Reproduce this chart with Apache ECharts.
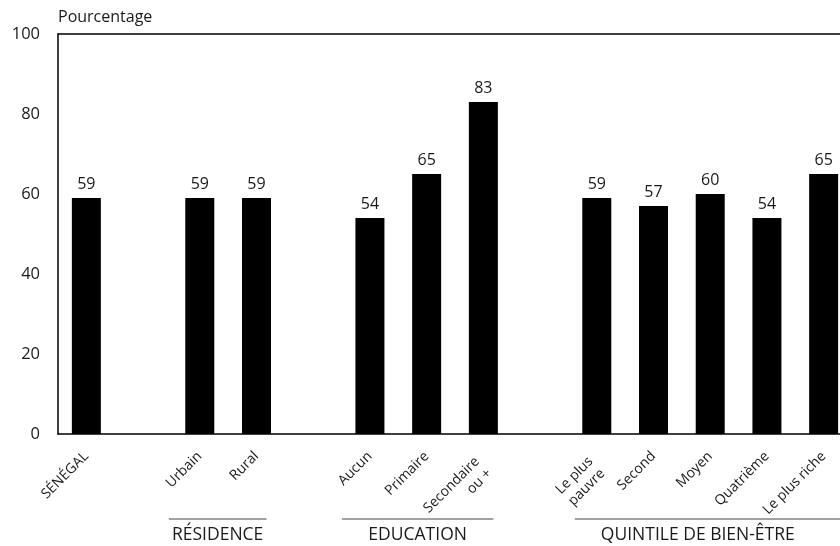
<!DOCTYPE html>
<html>
<head>
<meta charset="utf-8">
<script src="https://cdn.jsdelivr.net/npm/echarts@6/dist/echarts.min.js"></script>
<style>html,body{margin:0;padding:0;background:#fff;}#c{width:840px;height:546px;}</style>
</head>
<body>
<div id="c"></div>
<script>
const categories = ['SÉNÉGAL', '', 'Urbain', 'Rural', '', 'Aucun', 'Primaire', 'Secondaire\nou +', '', 'Le plus\npauvre', 'Second', 'Moyen', 'Quatrième', 'Le plus riche'];
const values = [59, null, 59, 59, null, 54, 65, 83, null, 59, 57, 60, 54, 65];
const yTicks = [0, 20, 40, 60, 80, 100];
const groupNames = ['RÉSIDENCE', 'EDUCATION', 'QUINTILE DE BIEN-ÊTRE'];
const groupFrom = ['Urbain', 'Aucun', 'Le plus\npauvre'];
const groupTo = ['Rural', 'Secondaire\nou +', 'Le plus riche'];

// layout-only settings for the group underlines
const groupLayout = [
  { padL: 31, padR: 10 },
  { padL: 28, padR: 10 },
  { padL: 22, padR: null, textOffset: 123 }
];

const FONT = 'Open Sans';
const LINE_H = 17;
const TXT = '#1a1a1a';
const chart = echarts.init(document.getElementById('c'), null, { renderer: 'canvas' });
const option = {
  animation: false,
  textStyle: { fontFamily: FONT },
  grid: { left: 58, width: 794, top: 34, height: 400, containLabel: false, outerBoundsMode: 'none' },
  xAxis: [{
    type: 'category',
    data: categories,
    axisLine: { show: true, lineStyle: { color: '#000', width: 1.5 } },
    axisTick: { show: false },
    axisLabel: {
      rotate: 45, interval: 0, fontSize: 14, color: TXT, fontFamily: FONT, margin: 20, lineHeight: LINE_H,
      formatter: function (v) {
        if (v.indexOf('\n') < 0) return v;
        return '{gap| }\n' + v.split('\n').map(s => '{t|' + s + '}').join('\n');
      },
      rich: {
        gap: { fontSize: 4, lineHeight: 16 },
        t: { fontSize: 14, lineHeight: LINE_H, color: TXT, fontFamily: FONT, padding: [0, 8, 0, 0] }
      }
    }
  }, {
    type: 'category',
    position: 'top',
    data: categories,
    axisLine: { show: true, lineStyle: { color: '#000', width: 1.5 } },
    axisTick: { show: false },
    axisLabel: { show: false }
  }],
  yAxis: {
    type: 'value',
    min: yTicks[0],
    max: yTicks[yTicks.length - 1],
    interval: 20,
    name: 'Pourcentage',
    nameLocation: 'end',
    nameGap: 9,
    nameTextStyle: { align: 'left', fontSize: 16, color: TXT, fontFamily: FONT, padding: [0, 0, 0, 0] },
    axisLine: { show: true, lineStyle: { color: '#000', width: 1.5 } },
    axisTick: { show: false },
    splitLine: { show: false },
    axisLabel: { fontSize: 16.5, color: TXT, fontFamily: FONT, margin: 18 }
  },
  series: [{
    type: 'bar',
    data: values,
    barWidth: 29,
    itemStyle: { color: '#000' },
    label: { show: true, position: 'top', distance: 6, fontSize: 16, color: TXT, fontFamily: FONT }
  }]
};
chart.setOption(option);

function addGroups() {
  const els = [];
  groupNames.forEach((name, i) => {
    const L = groupLayout[i];
    const x1 = chart.convertToPixel({ xAxisIndex: 0 }, groupFrom[i]) - L.padL;
    let x2 = L.padR == null ? 840 : chart.convertToPixel({ xAxisIndex: 0 }, groupTo[i]) + L.padR;
    const xc = L.textOffset != null ? x1 + L.textOffset : (x1 + x2) / 2;
    const yLine = 519;
    els.push({ type: 'line', shape: { x1: x1, y1: yLine, x2: x2, y2: yLine }, style: { stroke: '#444', lineWidth: 1.2 } });
    els.push({ type: 'text', x: xc, y: 535,
      style: { text: name, fontSize: 17.5, fill: TXT, fontFamily: FONT, textAlign: 'center', textVerticalAlign: 'middle' } });
  });
  chart.setOption({ graphic: els });
}
addGroups();
</script>
</body>
</html>
